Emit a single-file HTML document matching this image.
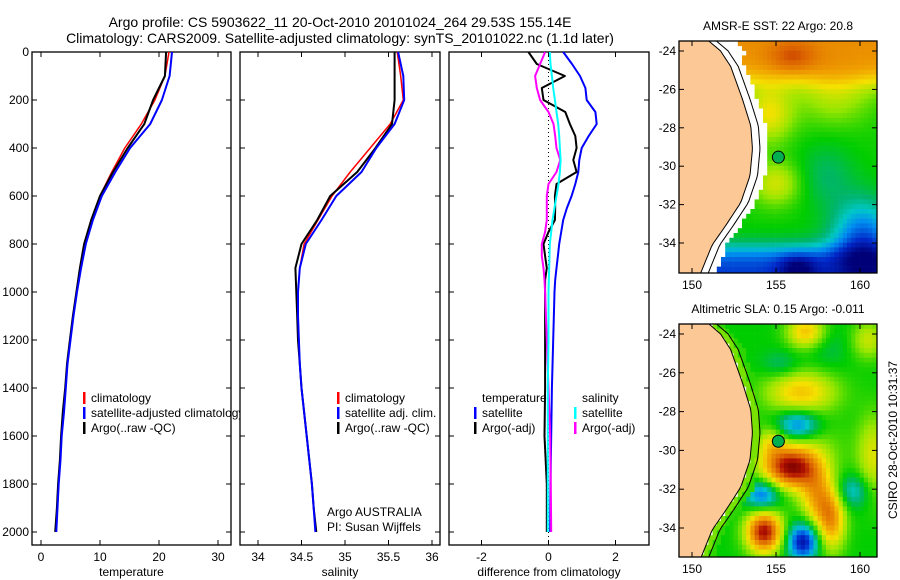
<!DOCTYPE html>
<html><head><meta charset="utf-8">
<style>
html,body{margin:0;padding:0;background:#fff;}
svg{display:block;font-family:"Liberation Sans",sans-serif;}
text{font-size:12px;fill:#000;}
</style></head>
<body>
<svg id="fig" width="900" height="580" viewBox="0 0 900 580" xmlns="http://www.w3.org/2000/svg">
<text x="340" y="27" text-anchor="middle" style="font-size:14px">Argo profile: CS 5903622_11 20-Oct-2010 20101024_264 29.53S 155.14E</text>
<text x="340" y="43" text-anchor="middle" style="font-size:14px">Climatology: CARS2009. Satellite-adjusted climatology: synTS_20101022.nc (1.1d later)</text>
<g id="p1"></g>
<g id="p2"></g>
<g id="p3"></g>
<g id="m1"></g>
<g id="m2"></g>
<text transform="translate(897,440) rotate(-90)" text-anchor="middle">CSIRO 28-Oct-2010 10:31:37</text>
</svg>
<script>
// ---- data ----
const depths = [0,100,200,300,400,500,600,700,800,900,1000,1100,1200,1300,1400,1500,1600,1700,1800,1900,2000];
const tempClim = [21.7,21.0,19.3,17.0,14.2,12.0,10.0,8.6,7.5,6.7,6.0,5.4,4.9,4.5,4.1,3.8,3.5,3.2,3.0,2.8,2.5];
const tempArgo = [21.2,21.0,19.0,17.5,14.7,12.2,10.0,8.5,7.3,6.6,6.0,5.4,4.9,4.4,4.1,3.7,3.4,3.2,2.9,2.7,2.4];
const tempSat  = [22.2,21.8,20.5,18.5,15.1,12.6,10.3,8.8,7.6,6.8,6.1,5.5,5.0,4.5,4.2,3.9,3.5,3.3,3.0,2.8,2.6];
const salClim = [35.60,35.64,35.67,35.52,35.29,35.06,34.85,34.69,34.53,34.48,34.46,34.46,34.47,34.48,34.50,34.53,34.56,34.59,34.62,34.64,34.66];
const salArgo = [35.57,35.57,35.57,35.54,35.35,35.14,34.83,34.68,34.50,34.43,34.44,34.45,34.46,34.48,34.50,34.53,34.56,34.59,34.62,34.64,34.67];
const salSat  = [35.61,35.67,35.68,35.57,35.36,35.19,34.90,34.73,34.55,34.48,34.46,34.46,34.47,34.48,34.50,34.53,34.56,34.59,34.62,34.64,34.66];
const diffDepths = [0,50,100,150,200,250,300,350,400,450,500,550,600,650,700,750,800,850,900,950,1000,1200,1400,1600,1800,2000];
const diffTempSat  = [0.44,0.7,0.94,1.1,1.14,1.4,1.44,1.2,0.99,0.92,0.89,0.8,0.69,0.55,0.44,0.38,0.32,0.28,0.24,0.2,0.18,0.14,0.1,0.08,0.06,0.05];
const diffTempArgo = [-0.6,-0.35,0.49,-0.2,-0.15,0.5,0.64,0.8,0.84,0.74,0.84,0.24,0.19,0.2,0.19,0.0,-0.15,-0.1,-0.05,-0.1,-0.1,-0.1,-0.1,-0.12,-0.05,-0.05];
const diffSalSat  = [0.04,0.06,0.1,0.14,0.19,0.24,0.29,0.32,0.34,0.36,0.34,0.3,0.24,0.18,0.12,0.08,0.04,0.03,0.02,0.01,0.0,0.0,-0.02,-0.02,-0.02,-0.02];
const diffSalArgo = [-0.1,-0.25,-0.4,-0.35,-0.25,0.0,0.15,0.2,0.24,0.35,0.24,0.0,-0.05,-0.05,-0.05,-0.1,-0.2,-0.2,-0.15,-0.12,-0.1,-0.05,0.0,0.05,0.07,0.08];
const depthTicks = [0,200,400,600,800,1000,1200,1400,1600,1800,2000];
const tempTicks = [0,10,20,30];
const salTicks = [34,34.5,35,35.5,36];
const salTickLabels = ["34","34.5","35","35.5","36"];
const diffTicks = [-2,0,2];
const latTicks = [24,26,28,30,32,34];
const lonTicks = [150,155,160];

const NS="http://www.w3.org/2000/svg";
function mk(p,tag,attrs,txt){const e=document.createElementNS(NS,tag);for(const k in attrs)e.setAttribute(k,attrs[k]);if(txt!==undefined)e.textContent=txt;p.appendChild(e);return e;}
const yD = d => 52 + d*48/200;

function panel(g,x0,x1,xs,ticks,labels,xlabel,showY){
  mk(g,'rect',{x:x0,y:52,width:x1-x0,height:493,fill:'#fff',stroke:'#000','stroke-width':1.3});
  depthTicks.forEach(d=>{
    const y=yD(d);
    let t=mk(g,'line',{x1:x0,x2:x0+5,y1:y,y2:y,stroke:'#000'});
    
    mk(g,'line',{x1:x1,x2:x1-5,y1:y,y2:y,stroke:'#000'});
    if(showY){let l=mk(g,'text',{x:x0-3,y:y+4,'text-anchor':'end'},String(d));
      }
  });
  ticks.forEach((v,i)=>{
    const x=xs(v);
    mk(g,'line',{x1:x,x2:x,y1:52,y2:57,stroke:'#000'});
    mk(g,'line',{x1:x,x2:x,y1:545,y2:540,stroke:'#000'});
    let l=mk(g,'text',{x:x,y:561,'text-anchor':'middle'},labels[i]);
    
  });
  let xl=mk(g,'text',{x:(x0+x1)/2,y:576,'text-anchor':'middle'},xlabel);
  
}
function line(g,xs,vals,ds,color,w,name){
  const pts=vals.map((v,i)=>xs(v).toFixed(1)+','+yD(ds[i]).toFixed(1)).join(' ');
  const e=mk(g,'polyline',{points:pts,fill:'none',stroke:color,'stroke-width':w,'stroke-linejoin':'round'});
  
  
}
function legend(g,x,y,color,txt,name){
  if(color) mk(g,'rect',{x:x-8,y:y-10,width:2.5,height:12,fill:color});
  const t=mk(g,'text',{x:x,y:y},txt);
  
  
}

const g1=document.getElementById('p1');
const xT=v=>41+v*5.9;
panel(g1,32,231,xT,tempTicks,tempTicks.map(String),'temperature',true);
line(g1,xT,tempClim,depths,'#f00',1.5,'temp-climatology-line');
line(g1,xT,tempArgo,depths,'#000',2,'temp-argo-line');
line(g1,xT,tempSat,depths,'#00f',2,'temp-satellite-line');
legend(g1,91,402,'#f00','climatology','legend-climatology');
legend(g1,91,417,'#00f','satellite-adjusted climatology','legend-satellite-adjusted');
legend(g1,91,432,'#000','Argo(..raw -QC)','legend-argo');
const g2=document.getElementById('p2');
const xS=v=>258+(v-34)*87;
panel(g2,240,440,xS,salTicks,salTickLabels,'salinity',false);
line(g2,xS,salClim,depths,'#f00',1.5,'sal-climatology-line');
line(g2,xS,salArgo,depths,'#000',2,'sal-argo-line');
line(g2,xS,salSat,depths,'#00f',2,'sal-satellite-line');
legend(g2,345,402,'#f00','climatology','legend-climatology');
legend(g2,345,417,'#00f','satellite adj. clim.','legend-satellite-adj');
legend(g2,345,432,'#000','Argo(..raw -QC)','legend-argo');
legend(g2,327,516,null,'Argo AUSTRALIA','argo-australia-note');
legend(g2,327,531,null,'PI: Susan Wijffels','pi-note');
const g3=document.getElementById('p3');
const xDf=v=>548.5+v*33.5;
panel(g3,449,649,xDf,diffTicks,diffTicks.map(String),'difference from climatology',false);
mk(g3,'line',{x1:xDf(0),x2:xDf(0),y1:52,y2:545,stroke:'#000','stroke-dasharray':'1,3'});
line(g3,xDf,diffTempSat,diffDepths,'#00f',2,'diff-temp-satellite-line');
line(g3,xDf,diffTempArgo,diffDepths,'#000',2,'diff-temp-argo-line');
line(g3,xDf,diffSalArgo,diffDepths,'#f0f',2,'diff-sal-argo-line');
line(g3,xDf,diffSalSat,diffDepths,'#0ff',2,'diff-sal-satellite-line');
legend(g3,482,402,null,'temperature','legend-temperature-header');
legend(g3,482,417,'#00f','satellite','legend-temp-satellite');
legend(g3,482,432,'#000','Argo(-adj)','legend-temp-argo');
legend(g3,582,402,null,'salinity','legend-salinity-header');
legend(g3,582,417,'#0ff','satellite','legend-sal-satellite');
legend(g3,582,432,'#f0f','Argo(-adj)','legend-sal-argo');

// ---- maps ----
const stops=[[0.05,[0,0,120]],[0.15,[0,40,200]],[0.25,[0,140,240]],[0.32,[0,200,200]],[0.38,[0,180,110]],[0.45,[0,205,0]],[0.55,[150,230,0]],[0.65,[245,225,0]],[0.75,[240,160,0]],[0.85,[220,100,0]],[0.93,[180,20,0]],[1.0,[120,0,0]]];
function cmap(v){
  if(v<=stops[0][0])return 'rgb('+stops[0][1]+')';
  for(let i=1;i<stops.length;i++){if(v<=stops[i][0]){const a=stops[i-1],b=stops[i];const t=(v-a[0])/(b[0]-a[0]);
    return 'rgb('+a[1].map((c,k)=>Math.round(c+(b[1][k]-c)*t)).join(',')+')';}}
  return 'rgb('+stops[stops.length-1][1]+')';
}
function coast(lat){const L=[[23.4,150.9],[24.0,151.7],[24.8,152.3],[26.5,153.0],[27.9,153.5],[29.1,153.6],[30.5,153.45],[31.9,152.9],[33.1,152.0],[34.1,151.2],[35.6,150.5]];
  for(let i=1;i<L.length;i++){if(lat<=L[i][0]){const t=(lat-L[i-1][0])/(L[i][0]-L[i-1][0]);return L[i-1][1]+t*(L[i][1]-L[i-1][1]);}}return 150.5;}
const G=(lo,la,cx,cy,sx,sy)=>Math.exp(-((lo-cx)*(lo-cx)/(2*sx*sx)+(la-cy)*(la-cy)/(2*sy*sy)));
const sig=x=>1/(1+Math.exp(-x));
function sst(lo,la){let v=0.46+0.32*sig((25.6-la)/0.4)+0.18*G(lo,la,154.6,27.3,1.0,1.0)+0.1*G(lo,la,156,24.3,1,0.6)
  +0.1*G(lo,la,158.5,26.5,1.5,1.0)
  +0.15*G(lo,la,155,30.9,1.0,0.8)-0.3*sig((la-34.3)/0.35)-0.15*G(lo,la,156.3,35.3,0.8,0.5)
  -0.25*G(lo,la,160.2,33.8,1.3,1.4)-0.07*G(lo,la,158,30.5,1.2,1.2);return v;}
const slaBlobs=[[156.5,27,1.5,0.8,0.24],[156.3,28.7,0.9,0.55,-0.25],[155.9,30.9,1.2,0.75,0.5],[157.4,32.4,0.7,1.0,0.25],[154.2,32.3,0.7,0.55,-0.25],[154.3,34.2,0.75,0.75,0.5],[156.6,34.7,0.65,0.65,-0.35],[158.3,33.6,0.6,1.1,0.3],[156.8,23.9,0.8,0.6,0.25],[159.6,32.1,0.7,0.6,-0.15],[155.3,25.6,0.8,0.5,-0.08],[160.8,30.3,0.7,1.5,0.17],[160.5,24.3,0.7,0.7,0.15],[154.7,29.6,0.6,0.6,0.15],[157.0,29.7,1.5,0.9,0.08],[158.0,24.7,0.9,0.8,-0.05]];
function sla(lo,la){let v=0.45;slaBlobs.forEach(b=>v+=b[4]*G(lo,la,b[0],b[1],b[2],b[3]));const c=coast(la);if(lo<c+0.4)v=0.53;else if(lo<c+0.8)v=Math.max(v,0.48);return v;}

function map(id,top,bottom,lat0y,latScale,field,gap,title){
  const g=document.getElementById(id);
  const x0=679,x1=877;
  const X=lo=>692+(lo-150)*16.8, Y=la=>lat0y+(la-24)*latScale;
  const lonAt=x=>150+(x-692)/16.8, latAt=y=>24+(y-lat0y)/latScale;
  const clip='clip'+id;
  const cp=mk(mk(g,'defs',{}),'clipPath',{id:clip});mk(cp,'rect',{x:x0,y:top,width:x1-x0,height:bottom-top});
  const cg=mk(g,'g',{'clip-path':'url(#'+clip+')'});
  mk(cg,'rect',{x:x0,y:top,width:x1-x0,height:bottom-top,fill:'#fff'});
  const dx=4.2,dy=4.8;
  for(let y=top;y<bottom;y+=dy){for(let x=x0;x<x1;x+=dx){
    const lo=lonAt(x+dx/2),la=latAt(y+dy/2);const c=coast(la);
    if(lo<c+gap)continue;
    if(gap>0 && la<24.3 && lo<c+1.5)continue;
    const r=mk(cg,'rect',{x:x.toFixed(1),y:y.toFixed(1),width:dx+0.3,height:dy+0.3,fill:cmap(field(lo,la))});
    
  }}
  let pts=[[x0,top]];for(let la=23.4;la<=35.7;la+=0.2)pts.push([X(coast(la)),Y(la)]);pts.push([x0,bottom]);
  const land=mk(cg,'polygon',{points:pts.map(p=>p.join(',')).join(' '),fill:'#fbc896',stroke:'#000','stroke-width':1});
  
  let iso=[];for(let la=23.4;la<=35.7;la+=0.2)iso.push([X(coast(la)+0.45),Y(la)]);
  mk(cg,'polyline',{points:iso.map(p=>p.join(',')).join(' '),fill:'none',stroke:'#000','stroke-width':1});
  mk(g,'rect',{x:x0,y:top,width:x1-x0,height:bottom-top,fill:'none',stroke:'#000','stroke-width':1.3});
  latTicks.forEach(la=>{const y=Y(la);mk(g,'line',{x1:x0,x2:x0+5,y1:y,y2:y,stroke:'#000'});mk(g,'line',{x1:x1,x2:x1-5,y1:y,y2:y,stroke:'#000'});
    const t=mk(g,'text',{x:x0-3,y:y+4,'text-anchor':'end'},'-'+la);});
  lonTicks.forEach(lo=>{const x=X(lo);mk(g,'line',{x1:x,x2:x,y1:top,y2:top+5,stroke:'#000'});mk(g,'line',{x1:x,x2:x,y1:bottom,y2:bottom-5,stroke:'#000'});
    const t=mk(g,'text',{x:x,y:bottom+16,'text-anchor':'middle'},String(lo));});
  const m=mk(g,'circle',{cx:X(155.14),cy:Y(29.53),r:6,fill:'#00b050',stroke:'#000','stroke-width':1});
  
  const tt=mk(g,'text',{x:(x0+x1)/2,y:top-11,'text-anchor':'middle'},title);
  
}
map('m1',41,273,51,19.2,sst,0.9,'AMSR-E SST: 22 Argo: 20.8');
map('m2',324,557,334,19.4,sla,0,'Altimetric SLA: 0.15 Argo: -0.011');
</script>
</body></html>
